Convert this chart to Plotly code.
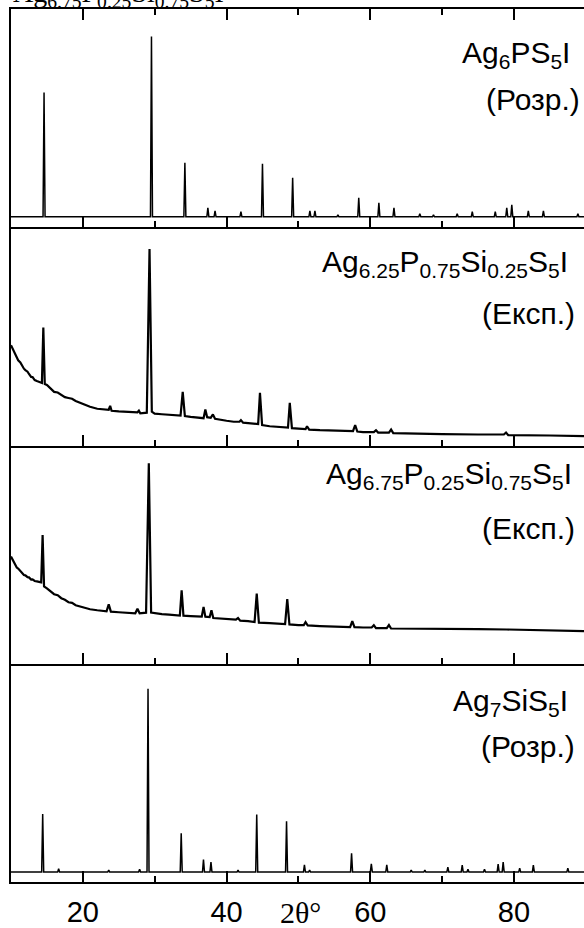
import plotly.graph_objects as go

# ---------------- data ----------------
# 2-theta range
x_range = [10, 89.75]
tick_vals = [20, 40, 60, 80]
tick_text = ["20", "40", "60", "80"]

# Panel 1: Ag6PS5I calculated pattern (peak positions, relative intensities)
sim1_pos = [14.6, 29.55, 34.2, 37.4, 38.4, 42.0, 45.0, 49.2, 51.6, 52.3, 55.5,
            58.4, 61.2, 63.3, 66.9, 68.8, 72.1, 74.2, 77.4, 79.0, 79.7, 82.0,
            84.1, 88.9]
sim1_int = [68.9, 100, 30.0, 5.0, 3.3, 2.8, 29.4, 21.7, 3.3, 3.3, 1.1,
            10.6, 7.8, 5.0, 1.7, 1.1, 1.7, 2.8, 2.8, 5.0, 6.7, 3.3,
            3.3, 1.7]

# Panel 2: Ag6.25P0.75Si0.25S5I experimental pattern
exp2_x = [10.0, 10.3, 10.5, 10.8, 11.0, 11.3, 11.5, 11.8, 12.0, 12.3, 12.5, 12.8,
          13.0, 13.3, 13.6, 14.0, 14.3, 14.5, 14.7,
          15.0, 15.5, 16.0, 16.5, 17.0, 17.5, 18.0, 18.5, 19.0, 20.0, 21.0, 22.0,
          23.0, 23.6, 23.8,
          24.0, 25.0, 26.0, 27.0, 27.6, 27.8, 28.0, 28.9, 29.28, 29.6, 30.0, 31.0,
          32.0, 33.0, 33.6, 33.9, 34.2, 35.0, 36.0, 36.8, 37.05, 37.3, 37.8, 38.1,
          38.4, 39.0, 40.0, 41.0, 41.8, 42.0, 42.3, 43.0, 44.0, 44.4, 44.65, 44.95,
          46.0, 47.0, 48.0, 48.55, 48.8, 49.1, 50.0, 51.0, 51.2, 51.5, 53.0, 55.0,
          56.0, 57.6, 57.9, 58.2, 59.0, 60.5, 60.8, 61.1, 62.6, 62.9, 63.2, 65.0,
          70.0, 75.0, 78.6, 78.9, 79.2, 85.0, 89.75]
exp2_y = [51.0, 48.6, 47.0, 44.6, 43.4, 42.3, 40.9, 39.1, 38.4, 37.6, 36.4, 34.9,
          34.8, 33.3, 32.8, 32.3, 31.8, 60.1, 31.3,
          30.8, 28.8, 27.3, 27.0, 25.8, 24.6, 24.2, 23.8, 22.7, 21.2, 19.7, 18.7,
          18.2, 18.2, 20.2,
          17.7, 17.4, 17.2, 16.7, 16.9, 17.7, 16.4, 16.7, 100.0, 17.2, 16.2, 15.9,
          15.7, 15.2, 15.2, 27.3, 15.0, 14.6, 14.1, 13.9, 18.3, 14.4, 14.1, 15.8,
          13.6, 13.1, 12.6, 12.1, 12.1, 12.9, 11.6, 11.4, 10.9, 10.9, 26.8, 10.4,
          9.8, 9.6, 9.1, 9.1, 21.7, 8.8, 8.6, 8.3, 9.8, 8.1, 7.8, 7.6,
          7.3, 7.3, 10.4, 7.1, 6.8, 6.8, 7.8, 6.6, 6.6, 8.1, 6.3, 6.1,
          5.8, 5.6, 5.6, 6.6, 5.3, 5.1, 4.8]

# Panel 3: Ag6.75P0.25Si0.75S5I experimental pattern
exp3_x = [10.0, 10.3, 10.5, 10.8, 11.0, 11.3, 11.5, 11.8, 12.0, 12.3, 12.5, 12.8,
          13.0, 13.3, 13.6, 14.2, 14.4, 14.6, 15.0,
          15.5, 16.0, 16.5, 17.0, 17.5, 18.0, 18.5, 19.0, 20.0, 21.0, 22.0, 23.3,
          23.6, 23.9, 25.0,
          26.0, 27.3, 27.6, 27.9, 28.8, 29.18, 29.5, 30.0, 31.0, 32.0, 33.0, 33.5,
          33.75, 34.0, 35.0, 36.0, 36.55, 36.8, 37.05, 37.65, 37.9, 38.15, 39.0, 40.0,
          41.3, 41.6, 41.9, 43.0, 43.9, 44.2, 44.5, 46.0, 47.0, 48.15, 48.45, 48.75,
          50.0, 50.75, 51.0, 51.3, 53.0, 55.0, 57.2, 57.5, 57.8, 59.0, 60.2, 60.5,
          60.8, 62.3, 62.6, 62.9, 65.0, 70.0, 75.0, 79.0, 85.0, 89.75]
exp3_y = [53.5, 51.6, 50.0, 48.0, 47.5, 46.1, 45.5, 44.3, 44.1, 43.2, 43.1, 42.0,
          42.1, 41.3, 41.1, 40.6, 64.2, 38.6, 37.6,
          36.1, 34.7, 34.2, 32.7, 31.9, 30.7, 30.4, 29.2, 28.2, 27.2, 26.7, 26.2,
          29.6, 26.0, 25.7,
          25.5, 25.2, 27.4, 25.2, 25.5, 100.0, 25.5, 25.2, 24.8, 24.5, 24.3, 24.0,
          36.6, 24.0, 23.8, 23.5, 23.5, 28.4, 23.5, 23.3, 26.7, 22.8, 22.5, 22.3,
          22.0, 22.8, 21.5, 21.3, 20.8, 35.0, 20.5, 20.3, 20.0, 19.8, 32.3, 19.6,
          19.3, 19.3, 20.8, 19.1, 18.8, 18.6, 18.3, 21.3, 18.3, 18.1, 18.1, 19.2,
          17.8, 17.8, 19.3, 17.6, 17.6, 17.3, 17.3, 17.1, 16.6, 16.3]

# Panel 4: Ag7SiS5I calculated pattern
sim4_pos = [14.41, 16.63, 23.6, 27.9, 29.07, 33.69, 36.79, 37.83, 41.6, 44.2,
            48.35, 50.84, 51.56, 57.4, 60.15, 62.3, 65.7, 67.6, 70.8, 72.8,
            73.6, 75.9, 77.8, 78.5, 80.8, 82.7, 87.5]
sim4_int = [31.7, 1.8, 1.1, 1.6, 100, 21.2, 6.9, 5.4, 1.1, 31.4,
            27.7, 4.0, 1.1, 10.3, 4.5, 4.0, 1.1, 1.1, 2.7, 3.8,
            1.6, 1.6, 4.3, 5.4, 2.2, 3.8, 2.2]

formula_labels = ["Ag<sub>6</sub>PS<sub>5</sub>I",
                  "Ag<sub>6.25</sub>P<sub>0.75</sub>Si<sub>0.25</sub>S<sub>5</sub>I",
                  "Ag<sub>6.75</sub>P<sub>0.25</sub>Si<sub>0.75</sub>S<sub>5</sub>I",
                  "Ag<sub>7</sub>SiS<sub>5</sub>I"]
kind_labels = ["(Розр.)", "(Експ.)", "(Експ.)", "(Розр.)"]
top_cut_label = "Ag<sub>6.75</sub>P<sub>0.25</sub>Si<sub>0.75</sub>S<sub>5</sub>I"
x_title = "2θ°"

# ---------------- layout geometry ----------------
W, H = 584, 928
ML, MR, MT, MB = 11, 0, 9, 41
PW, PH = W - ML - MR, H - MT - MB


def px_x(px):
    return (px - ML) / PW


def px_y(py):
    return (H - MB - py) / PH


SPIKE_W = 0.14


def spikes(pos, inten):
    xs, ys = [x_range[0]], [0]
    for p, h in zip(pos, inten):
        xs += [p - SPIKE_W, p, p + SPIKE_W]
        ys += [0, h, 0]
    xs.append(x_range[1])
    ys.append(0)
    return xs, ys


fig = go.Figure()

x1, y1 = spikes(sim1_pos, sim1_int)
x4, y4 = spikes(sim4_pos, sim4_int)
series = [(x1, y1, 1.5), (exp2_x, exp2_y, 2.2), (exp3_x, exp3_y, 2.2), (x4, y4, 1.5)]
for i, (xs, ys, lw) in enumerate(series):
    n = "" if i == 0 else str(i + 1)
    fig.add_trace(go.Scatter(x=xs, y=ys, mode="lines",
                             line=dict(color="black", width=lw),
                             xaxis="x" + n, yaxis="y" + n,
                             showlegend=False, hoverinfo="skip"))

domains = [[0.75, 1.0], [0.5, 0.75], [0.25, 0.5], [0.0, 0.25]]
y_ranges = [[-5.8, 115.2], [0, 111.1], [0, 108.9], [-5.4, 113.6]]

layout = dict(width=W, height=H, margin=dict(l=ML, r=MR, t=MT, b=MB),
              paper_bgcolor="white", plot_bgcolor="white", showlegend=False)

for i in range(4):
    n = "" if i == 0 else str(i + 1)
    xa = dict(range=x_range, domain=[0, 1], anchor="y" + n,
              showline=True, linecolor="black", linewidth=2,
              ticks="inside", ticklen=11, tickwidth=2, tickcolor="black",
              tickvals=tick_vals, ticktext=tick_text,
              minor=dict(dtick=10, tick0=0, ticks="inside", ticklen=6,
                         tickwidth=2, tickcolor="black"),
              showgrid=False, zeroline=False,
              showticklabels=(i == 3),
              tickfont=dict(family="Liberation Sans, Arial", size=29, color="black"),
              mirror="ticks" if i == 0 else False)
    if i > 0:
        xa["matches"] = "x"
    if i == 3:
        xa["ticklabelstandoff"] = 3
    ya = dict(range=y_ranges[i], domain=domains[i], anchor="x" + n,
              showline=True, linecolor="black", linewidth=2,
              ticks="", showticklabels=False, showgrid=False, zeroline=False)
    layout["xaxis" + n] = xa
    layout["yaxis" + n] = ya

fig.update_layout(**layout)

# label positions (pixels in the page)
f_right = [572, 570, 573.5, 570]
f_cy = [55, 265, 478, 706]
k_right = [582, 576.5, 576.5, 577]
k_cy = [100, 315, 531, 751]
lab_font = dict(family="Liberation Sans, Arial", size=30, color="black")
for i in range(4):
    fig.add_annotation(xref="paper", yref="paper", x=px_x(f_right[i]), y=px_y(f_cy[i]),
                       xanchor="right", yanchor="middle", text=formula_labels[i],
                       showarrow=False, font=lab_font)
    fig.add_annotation(xref="paper", yref="paper", x=px_x(k_right[i]), y=px_y(k_cy[i]),
                       xanchor="right", yanchor="middle", text=kind_labels[i],
                       showarrow=False, font=lab_font)

# axis title
fig.add_annotation(xref="paper", yref="paper", x=px_x(300), y=px_y(918),
                   xanchor="center", yanchor="middle", text=x_title, showarrow=False,
                   font=dict(family="Liberation Serif, Times New Roman", size=30, color="black"))

# cut-off caption at the very top of the image
fig.add_annotation(xref="paper", yref="paper", x=px_x(11), y=px_y(-6),
                   xanchor="left", yanchor="middle", text=top_cut_label, showarrow=False,
                   font=dict(family="Liberation Serif, Times New Roman", size=28, color="black"))

fig.write_html("out.html", config={"displayModeBar": False, "staticPlot": True},
               post_script="document.body.style.margin='0';document.body.style.overflow='hidden';")
